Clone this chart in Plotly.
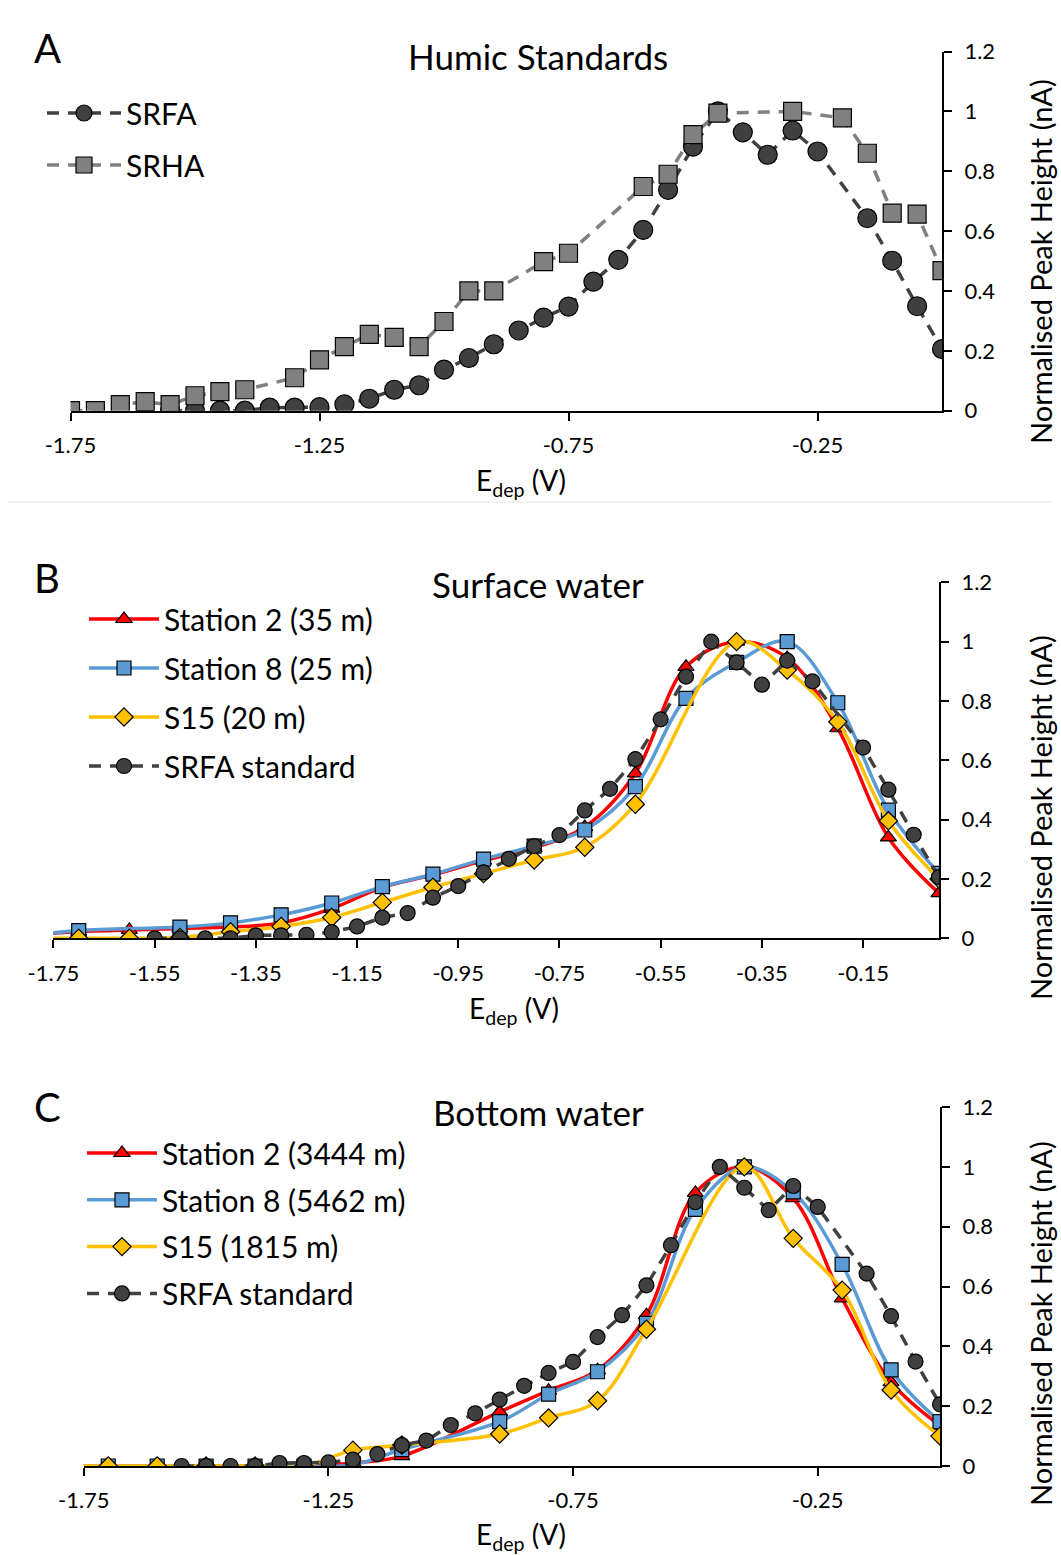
import plotly.graph_objects as go

W, H = 1061, 1555

# ---------------- data ----------------
# SRFA standard (same in all panels)
srfa_x = [-1.55, -1.50, -1.45, -1.40, -1.35, -1.30, -1.25, -1.20, -1.15, -1.10, -1.05, -1.00,
          -0.95, -0.90, -0.85, -0.80, -0.75, -0.70, -0.65, -0.60, -0.55, -0.50, -0.45, -0.40,
          -0.35, -0.30, -0.25, -0.15, -0.10, -0.05, 0.0]
srfa_y = [0, 0, 0, 0, 0.010, 0.010, 0.012, 0.021, 0.040, 0.070, 0.085, 0.137,
          0.176, 0.222, 0.268, 0.311, 0.348, 0.431, 0.504, 0.604, 0.738, 0.882, 1.0, 0.930,
          0.855, 0.936, 0.866, 0.643, 0.501, 0.349, 0.206]

# SRHA standard (panel A)
srha_x = [-1.75, -1.70, -1.65, -1.60, -1.55, -1.50, -1.45, -1.40, -1.30, -1.25, -1.20, -1.15,
          -1.10, -1.05, -1.00, -0.95, -0.90, -0.80, -0.75, -0.60, -0.55, -0.50, -0.45, -0.30,
          -0.20, -0.15, -0.10, -0.05, 0.0]
srha_y = [0, 0, 0.020, 0.030, 0.020, 0.050, 0.064, 0.070, 0.110, 0.170, 0.214, 0.255,
          0.245, 0.214, 0.298, 0.400, 0.400, 0.498, 0.526, 0.749, 0.790, 0.922, 0.994, 1.0,
          0.978, 0.860, 0.660, 0.657, 0.468]

# Panel B: surface water
b_st2_x = [-1.80, -1.70, -1.60, -1.50, -1.40, -1.30, -1.20, -1.10, -1.00, -0.90, -0.80, -0.70,
           -0.60, -0.50, -0.40, -0.30, -0.20, -0.10, 0.0]
b_st2_y = [0.012, 0.022, 0.028, 0.033, 0.038, 0.052, 0.100, 0.172, 0.214, 0.262, 0.305, 0.375,
           0.556, 0.915, 1.0, 0.945, 0.708, 0.340, 0.152]
b_st8_x = [-1.80, -1.70, -1.50, -1.40, -1.30, -1.20, -1.10, -1.00, -0.90, -0.80, -0.70, -0.60,
           -0.50, -0.40, -0.30, -0.20, -0.10, 0.0]
b_st8_y = [0.008, 0.026, 0.038, 0.052, 0.079, 0.119, 0.174, 0.216, 0.267, 0.311, 0.365, 0.511,
           0.809, 0.930, 1.0, 0.794, 0.432, 0.219]
b_s15_x = [-1.80, -1.70, -1.60, -1.50, -1.40, -1.30, -1.20, -1.10, -1.00, -0.90, -0.80, -0.70,
           -0.60, -0.40, -0.30, -0.20, -0.10, 0.0]
b_s15_y = [0, 0, 0, 0.003, 0.022, 0.040, 0.070, 0.121, 0.172, 0.218, 0.264, 0.307,
           0.452, 1.0, 0.904, 0.730, 0.396, 0.200]

# Panel C: bottom water
c_st2_x = [-1.80, -1.70, -1.60, -1.50, -1.40, -1.30, -1.20, -1.10, -0.90, -0.80, -0.70, -0.60,
           -0.50, -0.40, -0.30, -0.20, -0.10, 0.0]
c_st2_y = [0, 0, 0, 0, 0, 0, 0.010, 0.033, 0.181, 0.252, 0.320, 0.504,
           0.913, 1.0, 0.895, 0.560, 0.280, 0.135]
c_st8_x = c_st2_x
c_st8_y = [0, 0, 0, 0, 0, 0, 0.003, 0.055, 0.148, 0.240, 0.315, 0.477,
           0.858, 1.0, 0.916, 0.674, 0.321, 0.148]
c_s15_x = [-1.80, -1.70, -1.60, -1.50, -1.40, -1.30, -1.20, -1.10, -0.90, -0.80, -0.70, -0.60,
           -0.40, -0.30, -0.20, -0.10, 0.0]
c_s15_y = [0, 0, 0, 0, 0, 0, 0.053, 0.070, 0.107, 0.161, 0.218, 0.457,
           1.0, 0.761, 0.588, 0.254, 0.100]

# tick labels
xt_ac_vals = [-1.75, -1.25, -0.75, -0.25]
xt_ac_text = ["-1.75", "-1.25", "-0.75", "-0.25"]
xt_b_vals = [-1.75, -1.55, -1.35, -1.15, -0.95, -0.75, -0.55, -0.35, -0.15]
xt_b_text = ["-1.75", "-1.55", "-1.35", "-1.15", "-0.95", "-0.75", "-0.55", "-0.35", "-0.15"]
yt_vals = [0, 0.2, 0.4, 0.6, 0.8, 1.0, 1.2]
yt_text = ["0", "0.2", "0.4", "0.6", "0.8", "1", "1.2"]

# ---------------- styling ----------------
FONT = "Lato"
RED, BLUE, YEL, DARK, GREY = "#FF0000", "#5B9BD5", "#FFC000", "#404040", "#808080"


def px_x(p):
    return p / W


def px_y(p):
    return 1 - p / H


# plot-area pixel boxes: (left, right, top(1.2), bottom(0))
boxes = {
    "A": (70.5, 942, 51.5, 410.7),
    "B": (53.4, 939, 582.3, 938.3),
    "C": (83.8, 940, 1107, 1466),
}

fig = go.Figure()


def add(x, y, name, xa, ya, leg, color, symbol, msize, dash=None, mcolor=None, group=None):
    fig.add_trace(go.Scatter(
        x=x, y=y, name=name, xaxis=xa, yaxis=ya, legend=leg, legendgroup=group or name + leg,
        mode="lines+markers",
        line=dict(color=color, width=3.5, dash=dash, shape="spline" if dash is None else "linear",
                  smoothing=1.0),
        marker=dict(symbol=symbol, size=msize, color=mcolor or color,
                    line=dict(color="black", width=1.2)),
        cliponaxis=True,
    ))


# Panel A
add(srfa_x, srfa_y, "SRFA", "x", "y", "legend", DARK, "circle", 19, dash="12px,9px")
add(srha_x, srha_y, "SRHA", "x", "y", "legend", GREY, "square", 18, dash="12px,9px")

# Panel B
add(b_st2_x, b_st2_y, "Station 2 (35 m)", "x2", "y2", "legend2", RED, "triangle-up", 14)
add(b_st8_x, b_st8_y, "Station 8 (25 m)", "x2", "y2", "legend2", BLUE, "square", 14)
add(b_s15_x, b_s15_y, "S15 (20 m)", "x2", "y2", "legend2", YEL, "diamond", 14)
add(srfa_x, srfa_y, "SRFA standard", "x2", "y2", "legend2", DARK, "circle", 15, dash="12px,9px")

# Panel C
add(c_st2_x, c_st2_y, "Station 2 (3444 m)", "x3", "y3", "legend3", RED, "triangle-up", 14)
add(c_st8_x, c_st8_y, "Station 8 (5462 m)", "x3", "y3", "legend3", BLUE, "square", 14)
add(c_s15_x, c_s15_y, "S15 (1815 m)", "x3", "y3", "legend3", YEL, "diamond", 14)
add(srfa_x, srfa_y, "SRFA standard", "x3", "y3", "legend3", DARK, "circle", 15, dash="12px,9px")

tickfont = dict(family=FONT, size=22, color="black")
layout = dict(
    width=W, height=H, margin=dict(l=0, r=0, t=0, b=0, pad=0, autoexpand=False),
    paper_bgcolor="white", plot_bgcolor="white",
    font=dict(family=FONT, color="black"),
    showlegend=True,
)

for i, (key, xa, ya) in enumerate([("A", "xaxis", "yaxis"), ("B", "xaxis2", "yaxis2"),
                                   ("C", "xaxis3", "yaxis3")]):
    l, r, t, b = boxes[key]
    xs = "x" if i == 0 else f"x{i + 1}"
    ys = "y" if i == 0 else f"y{i + 1}"
    tv, tt = (xt_b_vals, xt_b_text) if key == "B" else (xt_ac_vals, xt_ac_text)
    layout[xa] = dict(domain=[px_x(l), px_x(r)], range=[-1.75, 0], anchor=ys,
                      showgrid=False, zeroline=False, showline=True, linecolor="black",
                      linewidth=2, ticks="outside", ticklen=8, tickwidth=2, tickcolor="black",
                      tickvals=tv, ticktext=tt, tickfont=tickfont, ticklabelstandoff=6,
                      automargin=False)
    layout[ya] = dict(domain=[px_y(b), px_y(t)], range=[0, 1.2], anchor=xs, side="right",
                      showgrid=False, zeroline=False, showline=True, linecolor="black",
                      linewidth=2, ticks="outside", ticklen=8, tickwidth=2, tickcolor="black",
                      tickvals=yt_vals, ticktext=yt_text, tickfont=tickfont, ticklabelstandoff=8,
                      automargin=False)

legfont = dict(family=FONT, size=30, color="black")
layout["legend"] = dict(x=px_x(42), y=px_y(87), xanchor="left", yanchor="top", font=legfont,
                        bgcolor="rgba(0,0,0,0)", traceorder="grouped", tracegroupgap=10,
                        itemwidth=74)
layout["legend2"] = dict(x=px_x(84), y=px_y(593), xanchor="left", yanchor="top", font=legfont,
                         bgcolor="rgba(0,0,0,0)", traceorder="grouped", tracegroupgap=7,
                         itemwidth=70)
layout["legend3"] = dict(x=px_x(82), y=px_y(1127), xanchor="left", yanchor="top", font=legfont,
                         bgcolor="rgba(0,0,0,0)", traceorder="grouped", tracegroupgap=4.8,
                         itemwidth=70)

ann = []


def text(x, y, s, size, angle=0, xanchor="center"):
    ann.append(dict(x=px_x(x), y=px_y(y), xref="paper", yref="paper", text=s, showarrow=False,
                    font=dict(family=FONT, size=size, color="black"), textangle=angle,
                    xanchor=xanchor, yanchor="middle"))


for lab, yy in [("A", 48), ("B", 578), ("C", 1107)]:
    text(47, yy, lab, 40)
text(538, 56, "Humic Standards", 35)
text(538, 584, "Surface water", 35)
text(538, 1112, "Bottom water", 35)
for xx, yy in [(521, 482), (514, 1010), (521, 1536)]:
    text(xx, yy, "E<sub>dep</sub> (V)", 28)
for yy in [262, 818, 1324]:
    text(1040, yy, "Normalised Peak Height (nA)", 29, angle=-90)
layout["annotations"] = ann
layout["shapes"] = [dict(type="line", xref="paper", yref="paper", x0=px_x(8), x1=px_x(1053),
                         y0=px_y(502), y1=px_y(502), line=dict(color="#e6e6e6", width=1))]

fig.update_layout(**layout)
fig.write_html("out.html")
